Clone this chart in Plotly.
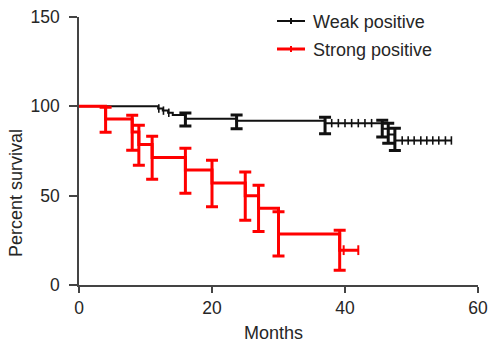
import plotly.graph_objects as go

# ---- data ----
weak_t = [0, 11.9, 12.6, 13.4, 14.1, 16, 23.7, 37, 45.6, 46.5, 47.5, 56]
weak_s = [100, 98.8, 97.6, 96.4, 95.2, 93.0, 92.0, 90.6, 87.4, 84.3, 80.9, 80.9]
weak_err_t = [16, 23.7, 37, 45.6, 46.5, 47.5]
weak_err_s = [92.6, 91.3, 89.3, 87.5, 84.9, 81.5]
weak_err = [3.6, 3.8, 4.6, 4.7, 5.6, 6.2]
weak_cens_t = [12.0, 12.7, 13.5, 38, 39, 40, 41, 42, 43, 44,
               48.6, 49.5, 50.4, 51.4, 52.3, 53.2, 54.1, 55.1, 56]
weak_cens_s = [98.8, 97.6, 96.4, 90.6, 90.6, 90.6, 90.6, 90.6, 90.6, 90.6,
               80.9, 80.9, 80.9, 80.9, 80.9, 80.9, 80.9, 80.9, 80.9]

strong_t = [0, 4, 8, 9, 11, 16, 20, 25, 27, 30, 39.2, 42]
strong_s = [100, 92.9, 85.7, 78.6, 71.4, 64.3, 57.1, 50.0, 42.9, 28.6, 19.5, 19.5]
strong_err_t = [4, 8, 9, 11, 16, 20, 25, 27, 30, 39.2]
strong_err_s = [92.5, 85.2, 78.2, 71.2, 64.0, 56.8, 49.8, 42.9, 28.6, 19.5]
strong_err = [7.0, 9.8, 11.2, 12.0, 12.6, 13.0, 13.5, 13.0, 12.4, 11.2]
strong_cens_t = [39.8, 42]
strong_cens_s = [19.5, 19.5]

x_ticks = [0, 20, 40, 60]
y_ticks = [0, 50, 100, 150]

BLACK = "#111111"
RED = "#ff0000"
AXIS = "#444444"
TXT = "#262626"
FONT = "Liberation Sans, Arial, Helvetica, sans-serif"

fig = go.Figure()

# weak positive
fig.add_trace(go.Scatter(x=weak_t, y=weak_s, mode="lines", line=dict(color=BLACK, width=2, shape="hv"),
                         showlegend=False, hoverinfo="skip"))
fig.add_trace(go.Scatter(x=weak_cens_t, y=weak_cens_s, mode="markers",
                         marker=dict(symbol="line-ns", size=6, line=dict(color=BLACK, width=1.6)),
                         showlegend=False, hoverinfo="skip"))
fig.add_trace(go.Scatter(x=weak_err_t, y=weak_err_s, mode="markers",
                         marker=dict(size=1, color="rgba(0,0,0,0)"),
                         error_y=dict(type="data", array=weak_err, color=BLACK, thickness=3, width=6),
                         showlegend=False, hoverinfo="skip"))

# strong positive
fig.add_trace(go.Scatter(x=strong_t, y=strong_s, mode="lines", line=dict(color=RED, width=3, shape="hv"),
                         showlegend=False, hoverinfo="skip"))
fig.add_trace(go.Scatter(x=strong_cens_t, y=strong_cens_s, mode="markers",
                         marker=dict(symbol="line-ns", size=7, line=dict(color=RED, width=2)),
                         showlegend=False, hoverinfo="skip"))
fig.add_trace(go.Scatter(x=strong_err_t, y=strong_err_s, mode="markers",
                         marker=dict(size=1, color="rgba(0,0,0,0)"),
                         error_y=dict(type="data", array=strong_err, color=RED, thickness=3, width=6),
                         showlegend=False, hoverinfo="skip"))

# plot area in the photo spans x 79..478, y 17..285 (body margin removed by post_script)
W, H = 490, 343
L, T = 79, 17
R = W - 478
B = H - 285
pw, ph = W - L - R, H - T - B


def px_x(p):
    return (p - L) / pw


def px_y(p):
    return (H - B - p) / ph


shapes = []
annotations = []
for label, color, lw, ypx in [("Weak positive", BLACK, 2, 21), ("Strong positive", RED, 3, 49)]:
    shapes.append(dict(type="line", xref="paper", yref="paper", x0=px_x(277), x1=px_x(305),
                       y0=px_y(ypx), y1=px_y(ypx), line=dict(color=color, width=lw)))
    shapes.append(dict(type="line", xref="paper", yref="paper", x0=px_x(291), x1=px_x(291),
                       y0=px_y(ypx - 3), y1=px_y(ypx + 3), line=dict(color=color, width=2)))
    annotations.append(dict(text=label, xref="paper", yref="paper", x=px_x(311), y=px_y(ypx + 1),
                            xanchor="left", yanchor="middle", showarrow=False,
                            font=dict(family=FONT, size=18, color=TXT)))

annotations.append(dict(text="Months", xref="paper", yref="paper", x=px_x(273), y=px_y(333),
                        xanchor="center", yanchor="middle", showarrow=False,
                        font=dict(family=FONT, size=18, color=TXT)))
annotations.append(dict(text="Percent survival", xref="paper", yref="paper", x=px_x(16), y=px_y(193),
                        xanchor="center", yanchor="middle", showarrow=False, textangle=-90,
                        font=dict(family=FONT, size=18, color=TXT)))

fig.update_layout(
    width=W, height=H,
    autosize=False,
    margin=dict(l=L, r=R, t=T, b=B, pad=0, autoexpand=False),
    paper_bgcolor="white", plot_bgcolor="white",
    shapes=shapes, annotations=annotations,
    font=dict(family=FONT, size=17, color=TXT),
    showlegend=False,
)
fig.update_xaxes(range=[0, 60], tickvals=x_ticks, ticks="outside", ticklen=6, tickwidth=1.5,
                 tickcolor=AXIS, showline=True, linecolor=AXIS, linewidth=1.5, showgrid=False,
                 zeroline=False, ticklabeloverflow="allow", automargin=False,
                 tickfont=dict(family=FONT, size=17.5, color=TXT))
fig.update_yaxes(range=[0, 150], tickvals=y_ticks, ticks="outside", ticklen=8, tickwidth=1.5,
                 tickcolor=AXIS, showline=True, linecolor=AXIS, linewidth=1.5, showgrid=False,
                 zeroline=False, ticklabelstandoff=6, ticklabeloverflow="allow", automargin=False,
                 tickfont=dict(family=FONT, size=17.5, color=TXT))

fig.write_html(
    "out.html",
    config={"displayModeBar": False},
    post_script="document.body.style.margin='0';document.body.style.overflow='hidden';",
)
